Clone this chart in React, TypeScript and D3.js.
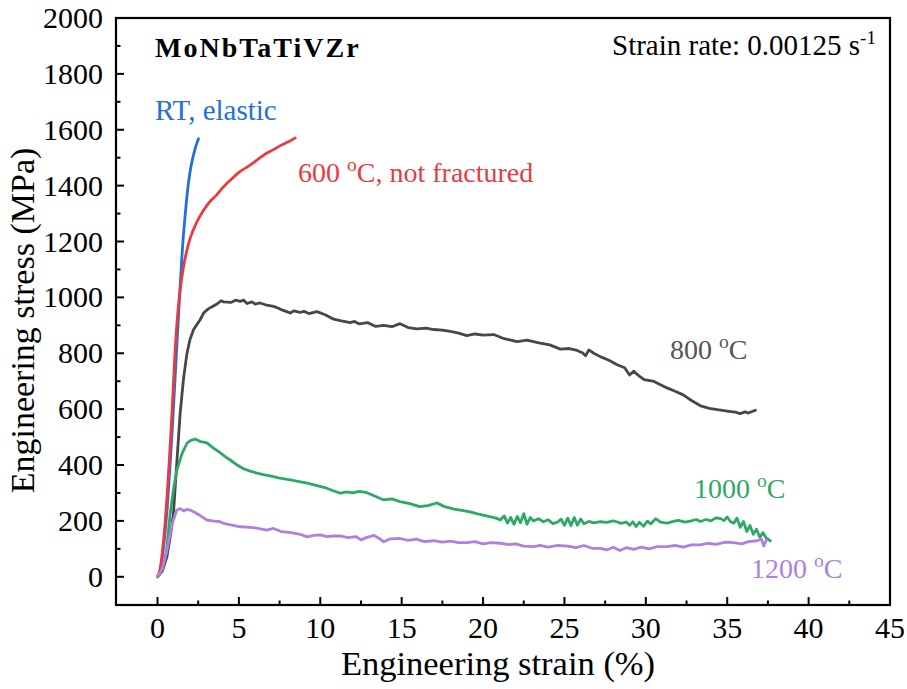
import React from "react";
import * as d3 from "d3";

// Engineering stress–strain curves of MoNbTaTiVZr at several temperatures
// Each series: [strain (%), stress (MPa)]
const rtElastic: [number, number][] = [
  [0, 0], [0.15, 20], [0.3, 70], [0.45, 150], [0.6, 250], [0.75, 380], [0.9, 520],
  [1.05, 680], [1.2, 840], [1.29, 932], [1.39, 1040], [1.54, 1183], [1.7, 1295],
  [1.85, 1385], [2.0, 1450], [2.15, 1495], [2.3, 1530], [2.42, 1552], [2.52, 1568],
];

const t600: [number, number][] = [
  [0, 0], [0.15, 25], [0.3, 90], [0.45, 180], [0.6, 300], [0.75, 440], [0.9, 600],
  [1.05, 775], [1.19, 905], [1.32, 990], [1.5, 1075], [1.75, 1155], [2.01, 1212],
  [2.4, 1268], [2.83, 1312], [3.25, 1345], [3.65, 1368], [4.0, 1392], [4.3, 1410],
  [4.7, 1432], [5.08, 1451], [5.5, 1466], [5.9, 1482], [6.3, 1500], [6.72, 1517],
  [7.1, 1528], [7.6, 1545], [8.0, 1556], [8.2, 1562], [8.46, 1571],
];

const t800: [number, number][] = [
  [0, 0], [0.3, 20], [0.58, 72], [0.8, 150], [0.98, 227], [1.2, 420], [1.39, 585],
  [1.6, 710], [1.81, 800], [2.0, 850], [2.21, 884], [2.62, 920], [2.83, 944],
  [3.1, 958], [3.3, 965], [3.7, 978], [3.9, 988], [4.06, 984], [4.5, 982], [4.8, 990],
  [5.08, 986], [5.3, 990], [5.5, 978], [5.8, 984], [6.0, 976], [6.3, 980], [6.72, 972],
  [7.13, 968], [7.4, 962], [7.6, 956], [7.9, 950], [8.16, 944], [8.36, 952],
  [8.77, 946], [9.0, 950], [9.3, 942], [9.8, 949], [10.3, 938], [10.82, 922],
  [11.3, 916], [11.84, 910], [12.1, 914], [12.4, 905], [12.9, 910], [13.4, 896],
  [13.9, 900], [14.4, 895], [14.9, 906], [15.4, 892], [15.94, 887], [16.5, 890],
  [16.96, 885], [17.5, 883], [17.99, 878], [18.5, 872], [19.0, 863], [19.5, 869],
  [20.0, 865], [20.65, 867], [21.3, 852], [22.1, 842], [22.7, 847], [23.5, 836],
  [24.1, 830], [24.75, 815], [25.3, 817], [25.78, 810], [26.1, 802], [26.3, 791],
  [26.5, 812], [26.8, 800], [27.2, 788], [27.7, 776], [28.24, 759], [28.7, 748],
  [29.0, 722], [29.25, 736], [29.6, 718], [29.9, 706], [30.5, 699], [31.3, 676],
  [31.8, 664], [32.3, 651], [32.8, 631], [33.36, 612], [33.9, 603], [34.4, 598],
  [35.1, 592], [35.5, 589], [35.8, 584], [36.1, 590], [36.3, 586], [36.73, 596],
];

const t1000: [number, number][] = [
  [0, 0], [0.3, 25], [0.55, 90], [0.78, 227], [1.0, 320], [1.19, 382], [1.5, 440],
  [1.81, 478], [2.05, 488], [2.32, 493], [2.6, 485], [3.04, 479], [3.4, 462],
  [3.8, 446], [4.2, 428], [4.47, 418], [4.9, 400], [5.3, 386], [5.7, 378], [6.11, 371],
  [6.5, 366], [7.0, 360], [7.5, 353], [8.16, 347], [8.77, 340], [9.2, 335], [9.8, 326],
  [10.4, 317], [10.8, 308], [11.23, 299], [11.6, 304], [12.0, 300], [12.4, 306],
  [12.87, 301], [13.3, 290], [13.9, 275], [14.4, 279], [14.9, 269], [15.5, 262],
  [16.1, 251], [16.6, 255], [17.17, 264], [17.6, 252], [18.2, 242], [18.7, 238],
  [19.2, 232], [19.6, 226], [20.0, 221], [20.4, 215], [20.8, 210], [21.06, 203],
  [21.3, 218], [21.5, 192], [21.7, 212], [21.9, 188], [22.1, 216], [22.3, 193],
  [22.5, 226], [22.7, 188], [22.9, 212], [23.1, 200], [23.4, 208], [23.7, 197],
  [24.0, 204], [24.3, 190], [24.55, 195], [24.8, 206], [25.0, 184], [25.2, 210],
  [25.4, 183], [25.6, 212], [25.8, 185], [26.0, 207], [26.2, 190], [26.5, 198],
  [26.8, 193], [27.2, 197], [27.6, 195], [28.0, 200], [28.2, 197], [28.5, 191],
  [28.8, 196], [29.0, 184], [29.2, 197], [29.4, 180], [29.6, 195], [29.86, 181],
  [30.1, 199], [30.3, 189], [30.6, 208], [30.9, 196], [31.3, 192], [31.7, 198],
  [32.0, 202], [32.4, 196], [32.8, 200], [33.1, 205], [33.35, 198], [33.7, 205],
  [34.0, 200], [34.3, 211], [34.6, 208], [34.8, 201], [35.0, 214], [35.2, 198],
  [35.4, 192], [35.6, 210], [35.8, 177], [36.0, 198], [36.2, 162], [36.4, 184],
  [36.6, 152], [36.8, 170], [37.0, 142], [37.2, 158], [37.4, 138], [37.65, 129],
];

const t1200: [number, number][] = [
  [0, 0], [0.3, 30], [0.6, 100], [0.9, 190], [1.19, 239], [1.4, 244], [1.6, 236],
  [1.8, 241], [2.0, 239], [2.3, 230], [2.6, 220], [3.04, 203], [3.4, 200], [3.85, 197],
  [4.06, 191], [4.5, 186], [5.08, 179], [5.5, 178], [6.0, 175], [6.72, 167],
  [7.13, 173], [7.6, 162], [8.2, 158], [8.77, 152], [9.18, 143], [9.6, 148],
  [10.0, 150], [10.4, 144], [10.8, 146], [11.23, 146], [11.7, 140], [12.2, 144],
  [12.5, 132], [12.87, 141], [13.3, 148], [13.6, 138], [13.9, 125], [14.3, 136],
  [14.9, 137], [15.4, 130], [15.9, 135], [16.4, 126], [16.96, 129], [17.5, 124],
  [18.0, 128], [18.5, 122], [19.0, 122], [19.5, 126], [20.0, 118], [20.5, 122],
  [21.06, 120], [21.6, 115], [22.0, 118], [22.5, 110], [23.1, 108], [23.5, 112],
  [24.0, 106], [24.6, 112], [25.2, 110], [25.7, 104], [26.2, 112], [26.7, 102],
  [27.2, 102], [27.6, 96], [28.0, 106], [28.4, 94], [28.8, 104], [29.26, 98],
  [29.7, 106], [30.2, 100], [30.7, 108], [31.3, 108], [31.8, 112], [32.3, 106],
  [32.8, 114], [33.35, 114], [33.8, 120], [34.3, 116], [34.9, 124], [35.4, 122],
  [35.9, 118], [36.3, 126], [36.84, 129], [37.1, 135], [37.25, 110], [37.4, 131],
];

const xTicks = [0, 5, 10, 15, 20, 25, 30, 35, 40, 45];
const yTicks = [0, 200, 400, 600, 800, 1000, 1200, 1400, 1600, 1800, 2000];

const series = [
  { name: "RT", data: rtElastic, color: "#2270dd", smooth: true },
  { name: "600", data: t600, color: "#ea3a3f", smooth: true },
  { name: "800", data: t800, color: "#474747", smooth: false },
  { name: "1000", data: t1000, color: "#2ea866", smooth: false },
  { name: "1200", data: t1200, color: "#b07fe0", smooth: false },
];

const W = 907;
const H = 689;
const left = 116;
const right = 890;
const top = 18;
const bottom = 605;

const serif = (size: number, extra: React.CSSProperties = {}): React.CSSProperties => ({
  fontFamily: "'Liberation Serif', 'Times New Roman', serif",
  fontSize: size,
  fontWeight: 400,
  ...extra,
});

function TempLabel({ x, y, value, color, rest = "" }: { x: number; y: number; value: string; color: string; rest?: string }) {
  const fs = 28;
  return (
    <text x={x} y={y} style={serif(fs)} fill={color}>
      {value + " "}
      <tspan style={serif(fs * 0.7)} dy={-fs * 0.38}>o</tspan>
      <tspan dy={fs * 0.38}>{"C" + rest}</tspan>
    </text>
  );
}

export default function App() {
  const x = d3.scaleLinear().domain([-2.55, 45]).range([left, right]);
  const y = d3.scaleLinear().domain([-101, 2000]).range([bottom, top]);
  const makeLine = (smooth: boolean) =>
    d3
      .line<[number, number]>()
      .x((d) => x(d[0]))
      .y((d) => y(d[1]))
      .curve(smooth ? d3.curveMonotoneX : d3.curveLinear);

  const xMinor = d3.range(0, 45.01, 2.5).filter((v) => v % 5 !== 0);
  const yMinor = d3.range(100, 2000, 200);

  return (
    <svg width={W} height={H} style={{ position: "absolute", left: 0, top: 0 }}>
      <rect x={0} y={0} width={W} height={H} fill="#fff" />
      {series.map((s) => (
        <path
          key={s.name}
          d={makeLine(s.smooth)(s.data) ?? ""}
          fill="none"
          stroke={s.color}
          strokeWidth={2.8}
          strokeLinejoin="round"
          strokeLinecap="round"
        />
      ))}
      <rect x={left} y={top} width={right - left} height={bottom - top} fill="none" stroke="#000" strokeWidth={2.2} />
      {xTicks.map((t) => (
        <g key={"xt" + t}>
          <line x1={x(t)} x2={x(t)} y1={bottom} y2={bottom - 8} stroke="#000" strokeWidth={2} />
          <text x={x(t)} y={638} style={serif(30)} textAnchor="middle">{t}</text>
        </g>
      ))}
      {xMinor.map((t) => (
        <line key={"xm" + t} x1={x(t)} x2={x(t)} y1={bottom} y2={bottom - 4.5} stroke="#000" strokeWidth={2} />
      ))}
      {yTicks.map((t) => (
        <g key={"yt" + t}>
          <line x1={left} x2={left + 8} y1={y(t)} y2={y(t)} stroke="#000" strokeWidth={2} />
          <text x={103} y={y(t) + 10} style={serif(30)} textAnchor="end">{t}</text>
        </g>
      ))}
      {yMinor.map((t) => (
        <line key={"ym" + t} x1={left} x2={left + 4.5} y1={y(t)} y2={y(t)} stroke="#000" strokeWidth={2} />
      ))}
      <text x={(left + right) / 2 - 5} y={675} style={serif(34.5)} textAnchor="middle">
        Engineering strain (%)
      </text>
      <text
        transform={`translate(34, ${(top + bottom) / 2 + 9}) rotate(-90)`}
        style={serif(34)}
        textAnchor="middle"
      >
        Engineering stress (MPa)
      </text>
      <text x={155} y={57} style={serif(28, { fontWeight: 700, letterSpacing: 2 })}>MoNbTaTiVZr</text>
      <text x={612} y={55} style={serif(29)}>
        Strain rate: 0.00125 s<tspan style={serif(19)} dy={-11}>-1</tspan>
      </text>
      <text x={155} y={120} style={serif(29)} fill="#2270dd">RT, elastic</text>
      <TempLabel x={298} y={182} value="600" color="#ea3a3f" rest=", not fractured" />
      <TempLabel x={670} y={359} value="800" color="#555555" />
      <TempLabel x={694} y={498} value="1000" color="#2ea866" />
      <TempLabel x={751} y={578} value="1200" color="#b07fe0" />
    </svg>
  );
}
